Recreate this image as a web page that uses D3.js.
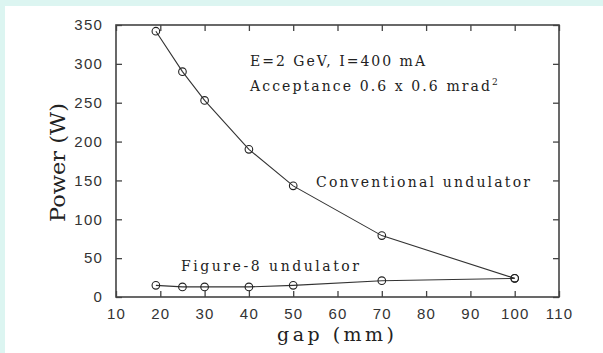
<!DOCTYPE html>
<html>
<head>
<meta charset="utf-8">
<script src="https://cdn.jsdelivr.net/npm/d3@7"></script>
<style>
  html, body { margin: 0; padding: 0; background: #dcf5f1; }
  svg { display: block; }
  .tick text { font-family: "Liberation Sans", Arial, sans-serif; font-size: 15px; fill: #333; letter-spacing: 1.2px; }
  .lbl { font-family: "DejaVu Serif", "Liberation Serif", serif; fill: #222; }
</style>
</head>
<body>
<svg id="chart" width="603" height="353"></svg>
<script>
// --- data
const gaps = [19, 25, 30, 40, 50, 70, 100];
const conventional = [342, 290, 253, 190, 143, 79, 24];
const figure8 = [15, 13, 13, 13, 15, 21, 24];
const xTicks = [10, 20, 30, 40, 50, 60, 70, 80, 90, 100, 110];
const yTicks = [0, 50, 100, 150, 200, 250, 300, 350];

const W = 603, H = 353;
const plot = { left: 116, right: 559, top: 25, bottom: 297 };

const svg = d3.select('#chart');

// white panel
svg.append('rect')
  .attr('x', 5).attr('y', 6)
  .attr('width', W - 5).attr('height', H - 6)
  .attr('fill', '#fff');

const x = d3.scaleLinear().domain([10, 110]).range([plot.left, plot.right]);
const y = d3.scaleLinear().domain([0, 350]).range([plot.bottom, plot.top]);

const axisColor = '#444';

// bottom axis with labels
const gx = svg.append('g')
  .attr('transform', `translate(0,${plot.bottom})`)
  .call(d3.axisBottom(x).tickValues(xTicks).tickSizeInner(-6).tickSizeOuter(0).tickPadding(11));
// left axis with labels
const gy = svg.append('g')
  .attr('transform', `translate(${plot.left},0)`)
  .call(d3.axisLeft(y).tickValues(yTicks).tickSizeInner(-6).tickSizeOuter(0).tickPadding(13));
// top and right: ticks only
const gt = svg.append('g')
  .attr('transform', `translate(0,${plot.top})`)
  .call(d3.axisTop(x).tickValues(xTicks).tickSizeInner(-6).tickSizeOuter(0).tickFormat(''));
const gr = svg.append('g')
  .attr('transform', `translate(${plot.right},0)`)
  .call(d3.axisRight(y).tickValues(yTicks).tickSizeInner(-6).tickSizeOuter(0).tickFormat(''));

[gx, gy, gt, gr].forEach(g => {
  g.select('.domain').remove();
  g.selectAll('.tick line').attr('stroke', axisColor).attr('stroke-width', 1.3);
});
gx.selectAll('.tick text').attr('dy', '0.71em');

// frame
svg.append('rect')
  .attr('x', plot.left).attr('y', plot.top)
  .attr('width', plot.right - plot.left).attr('height', plot.bottom - plot.top)
  .attr('fill', 'none').attr('stroke', axisColor).attr('stroke-width', 1.6);

// series
const line = d3.line().x(d => x(d[0])).y(d => y(d[1]));
[conventional, figure8].forEach(vals => {
  const pts = gaps.map((g, i) => [g, vals[i]]);
  svg.append('path')
    .datum(pts)
    .attr('d', line)
    .attr('fill', 'none')
    .attr('stroke', '#333')
    .attr('stroke-width', 1.1);
  svg.append('g').selectAll('circle')
    .data(pts)
    .enter()
    .append('circle')
    .attr('cx', d => x(d[0]))
    .attr('cy', d => y(d[1]))
    .attr('r', 3.8)
    .attr('fill', 'none')
    .attr('stroke', '#222')
    .attr('stroke-width', 1.1);
});

// annotations (widths fitted to the reference)
const ann = [
  { t: 'E=2 GeV, I=400 mA', x: 250, y: 66, w: 175 },
  { t: 'Conventional undulator', x: 316, y: 187, w: 214 },
  { t: 'Figure-8 undulator', x: 181, y: 271, w: 178 }
];
svg.selectAll('.ann')
  .data(ann)
  .enter()
  .append('text')
  .attr('class', 'lbl ann')
  .attr('x', d => d.x).attr('y', d => d.y)
  .attr('font-size', 14)
  .attr('textLength', d => d.w)
  .attr('lengthAdjust', 'spacing')
  .text(d => d.t);

const acc = svg.append('text')
  .attr('class', 'lbl')
  .attr('x', 250).attr('y', 91)
  .attr('font-size', 14);
acc.append('tspan').attr('textLength', 240).attr('lengthAdjust', 'spacing')
  .text('Acceptance 0.6 x 0.6 mrad');
acc.append('tspan').attr('dy', -6).attr('font-size', 9).text('2');

// axis titles
svg.append('text')
  .attr('class', 'lbl')
  .attr('x', 277).attr('y', 341)
  .attr('font-size', 19)
  .attr('textLength', 117)
  .attr('lengthAdjust', 'spacing')
  .text('gap (mm)');

svg.append('text')
  .attr('class', 'lbl')
  .attr('transform', 'translate(65,222) rotate(-90)')
  .attr('font-size', 20)
  .attr('textLength', 119)
  .attr('lengthAdjust', 'spacingAndGlyphs')
  .text('Power (W)');
</script>
</body>
</html>
